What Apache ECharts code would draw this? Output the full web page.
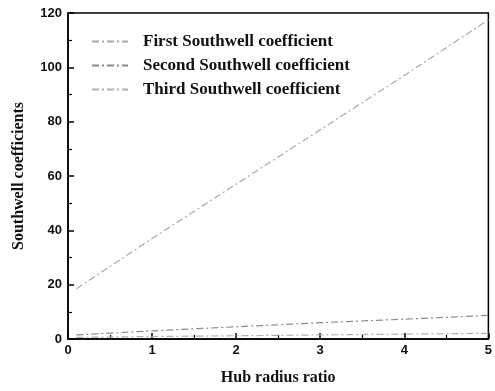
<!DOCTYPE html>
<html><head><meta charset="utf-8">
<script src="https://cdn.jsdelivr.net/npm/echarts@6/dist/echarts.min.js"></script>
<style>html,body{margin:0;padding:0;background:#fff}#c{width:495px;height:391px}</style>
</head><body><div id="c"></div>
<script>
var hubRatio = [0.1, 1, 2, 3, 4, 5];
var firstCoef = [18.5, 37, 57, 77, 97, 117.5];
var secondCoef = [1.5, 3, 4.5, 6, 7.3, 8.7];
var thirdCoef = [0.6, 0.9, 1.2, 1.5, 1.8, 2.1];
var seriesNames = ['First Southwell coefficient', 'Second Southwell coefficient', 'Third Southwell coefficient'];
var xTicks = [0, 1, 2, 3, 4, 5];
var yTicks = [0, 20, 40, 60, 80, 100, 120];

function pairs(xs, ys){ return xs.map(function(x,i){return [x, ys[i]];}); }
var font = '"Liberation Serif", "DejaVu Serif", serif';
var chart = echarts.init(document.getElementById('c'));
var dash = [7, 3, 2, 3];
function ser(name, data, color){
  return {name:name, type:'line', data:pairs(hubRatio, data), showSymbol:false, symbol:'none',
    lineStyle:{color:color, width:1.2, type:dash}, itemStyle:{color:color}};
}
chart.setOption({
  animation:false,
  backgroundColor:'#fff',
  grid:{left:68, right:5, top:13, bottom:51, show:true, borderColor:'#000', borderWidth:1.5},
  legend:{orient:'vertical', left:86, top:28, itemWidth:36, itemHeight:10, itemGap:7,
    itemStyle:{opacity:0},
    textStyle:{fontFamily:font, fontSize:17, fontWeight:'bold', color:'#111', padding:[0,0,0,10]},
    data:seriesNames},
  xAxis:{type:'value', min:0, max:5, interval:1,
    name:'Hub radius ratio', nameLocation:'middle', nameGap:31,
    nameTextStyle:{fontFamily:font, fontSize:16, fontWeight:'bold', color:'#111'},
    axisLine:{lineStyle:{color:'#000', width:1.5}},
    axisTick:{inside:true, length:6, lineStyle:{color:'#000', width:1.5}},
    minorTick:{show:true, splitNumber:2, length:4, lineStyle:{color:'#000', width:1.2}},
    axisLabel:{fontFamily:'"Liberation Sans", Arial, sans-serif', fontSize:13, fontWeight:'bold', color:'#111', margin:5,
      formatter:function(v){return xTicks.indexOf(v)>=0? String(v):'';}},
    splitLine:{show:false}},
  yAxis:{type:'value', min:0, max:120, interval:20,
    name:'Southwell coefficients', nameLocation:'middle', nameGap:41,
    nameTextStyle:{fontFamily:font, fontSize:16, fontWeight:'bold', color:'#111'},
    axisLine:{lineStyle:{color:'#000', width:1.5}},
    axisTick:{inside:true, length:6, lineStyle:{color:'#000', width:1.5}},
    minorTick:{show:true, splitNumber:2, length:4, lineStyle:{color:'#000', width:1.2}},
    axisLabel:{fontFamily:'"Liberation Sans", Arial, sans-serif', fontSize:13, fontWeight:'bold', color:'#111', margin:6,
      formatter:function(v){return yTicks.indexOf(v)>=0? String(v):'';}},
    splitLine:{show:false}},
  series:[
    ser(seriesNames[0], firstCoef, '#a8a8a8'),
    ser(seriesNames[1], secondCoef, '#8a8a8a'),
    ser(seriesNames[2], thirdCoef, '#b0b0b0')
  ]
});
</script></body></html>
